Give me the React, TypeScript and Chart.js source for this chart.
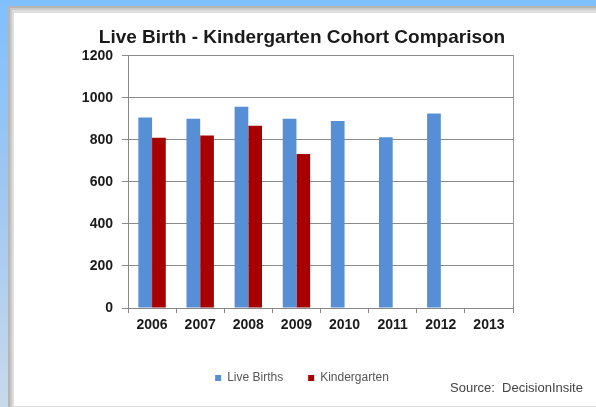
import React, { useEffect, useRef } from "react";
import { Chart, registerables } from "chart.js";

Chart.register(...registerables);

const years = ["2006", "2007", "2008", "2009", "2010", "2011", "2012", "2013"];
const liveBirths = [907, 901, 958, 901, 890, 813, 926, null];
const kindergarten = [810, 821, 867, 733, null, null, null, null];
const yTicks = [0, 200, 400, 600, 800, 1000, 1200];
const titleText = "Live Birth - Kindergarten Cohort Comparison";
const sourceText = "Source:  DecisionInsite";

const FONT = "'Liberation Sans', Arial, sans-serif";

export default function App() {
  const ref = useRef<HTMLCanvasElement | null>(null);

  useEffect(() => {
    if (!ref.current) return;
    const chart = new Chart(ref.current, {
      type: "bar",
      data: {
        labels: years,
        datasets: [
          {
            label: "Live Births",
            data: liveBirths,
            backgroundColor: "#568fd6",
            borderWidth: 0,
            categoryPercentage: 0.57,
            barPercentage: 1,
            yAxisID: "y",
          },
          {
            label: "Kindergarten",
            data: kindergarten,
            backgroundColor: "#a80000",
            borderWidth: 0,
            categoryPercentage: 0.57,
            barPercentage: 1,
            yAxisID: "y",
          },
        ],
      },
      options: {
        animation: false,
        responsive: false,
        maintainAspectRatio: false,
        layout: { padding: { left: 14, top: 13, right: 6, bottom: 13 } },
        plugins: {
          title: {
            display: true,
            text: titleText,
            color: "#1a1a1a",
            font: { family: FONT, size: 19, weight: "bold" },
            padding: { top: 13, bottom: 7 },
          },
          legend: {
            display: true,
            position: "bottom",
            labels: {
              boxWidth: 6,
              boxHeight: 6,
              padding: 25,
              color: "#555",
              font: { family: FONT, size: 12 },
            },
          },
          tooltip: { enabled: false },
        },
        scales: {
          x: {
            offset: true,
            grid: {
              display: true,
              drawOnChartArea: false,
              drawTicks: true,
              tickLength: 5,
              color: "#888",
              offset: true,
            },
            border: { display: true, color: "#888", width: 1 },
            ticks: {
              color: "#1a1a1a",
              padding: 4,
              font: { family: FONT, size: 14, weight: "bold" },
            },
            afterFit: (s: any) => {
              s.height = 39;
            },
          },
          y: {
            min: 0,
            max: 1200,
            afterBuildTicks: (s: any) => {
              s.ticks = yTicks.map((v) => ({ value: v }));
            },
            grid: { color: "#8a8a8a", tickLength: 6, drawTicks: true },
            border: { display: true, color: "#888", width: 1 },
            ticks: {
              color: "#1a1a1a",
              padding: 9,
              font: { family: FONT, size: 14, weight: "bold" },
              callback: (v: any) => String(v),
            },
            afterFit: (s: any) => {
              s.width = 114;
            },
          },
          yR: {
            position: "right",
            display: true,
            min: 0,
            max: 1200,
            grid: { display: false, drawTicks: false },
            border: { display: true, color: "#999", width: 1 },
            ticks: { display: false },
            afterFit: (s: any) => {
              s.width = 77;
            },
          },
        },
      },
    });
    return () => chart.destroy();
  }, []);

  return (
    <div
      style={{
        position: "fixed",
        left: 0,
        top: 0,
        width: 596,
        height: 407,
        overflow: "hidden",
        background: "linear-gradient(180deg, #80bfff 0%, #9dc7f2 45%, #c9d9ec 100%)",
      }}
    >
      <div style={{ position: "absolute", left: 8, top: 6, right: 0, bottom: 0, background: "#b5b5b5" }} />
      <div style={{ position: "absolute", left: 10, top: 8, right: 0, bottom: 0, background: "#c9c9c9" }} />
      <div style={{ position: "absolute", left: 12, top: 10, right: 0, bottom: 0, background: "#dedede" }} />
      <div style={{ position: "absolute", left: 14, top: 13, right: 0, bottom: 1, background: "#ffffff" }} />
      <canvas
        ref={ref}
        width={596}
        height={407}
        style={{ position: "absolute", left: 0, top: 0, width: 596, height: 407 }}
      />
      <div
        style={{
          position: "absolute",
          left: 450,
          top: 380,
          fontFamily: FONT,
          fontSize: 13,
          lineHeight: "15px",
          color: "#444",
          whiteSpace: "pre",
        }}
      >
        {sourceText}
      </div>
    </div>
  );
}
